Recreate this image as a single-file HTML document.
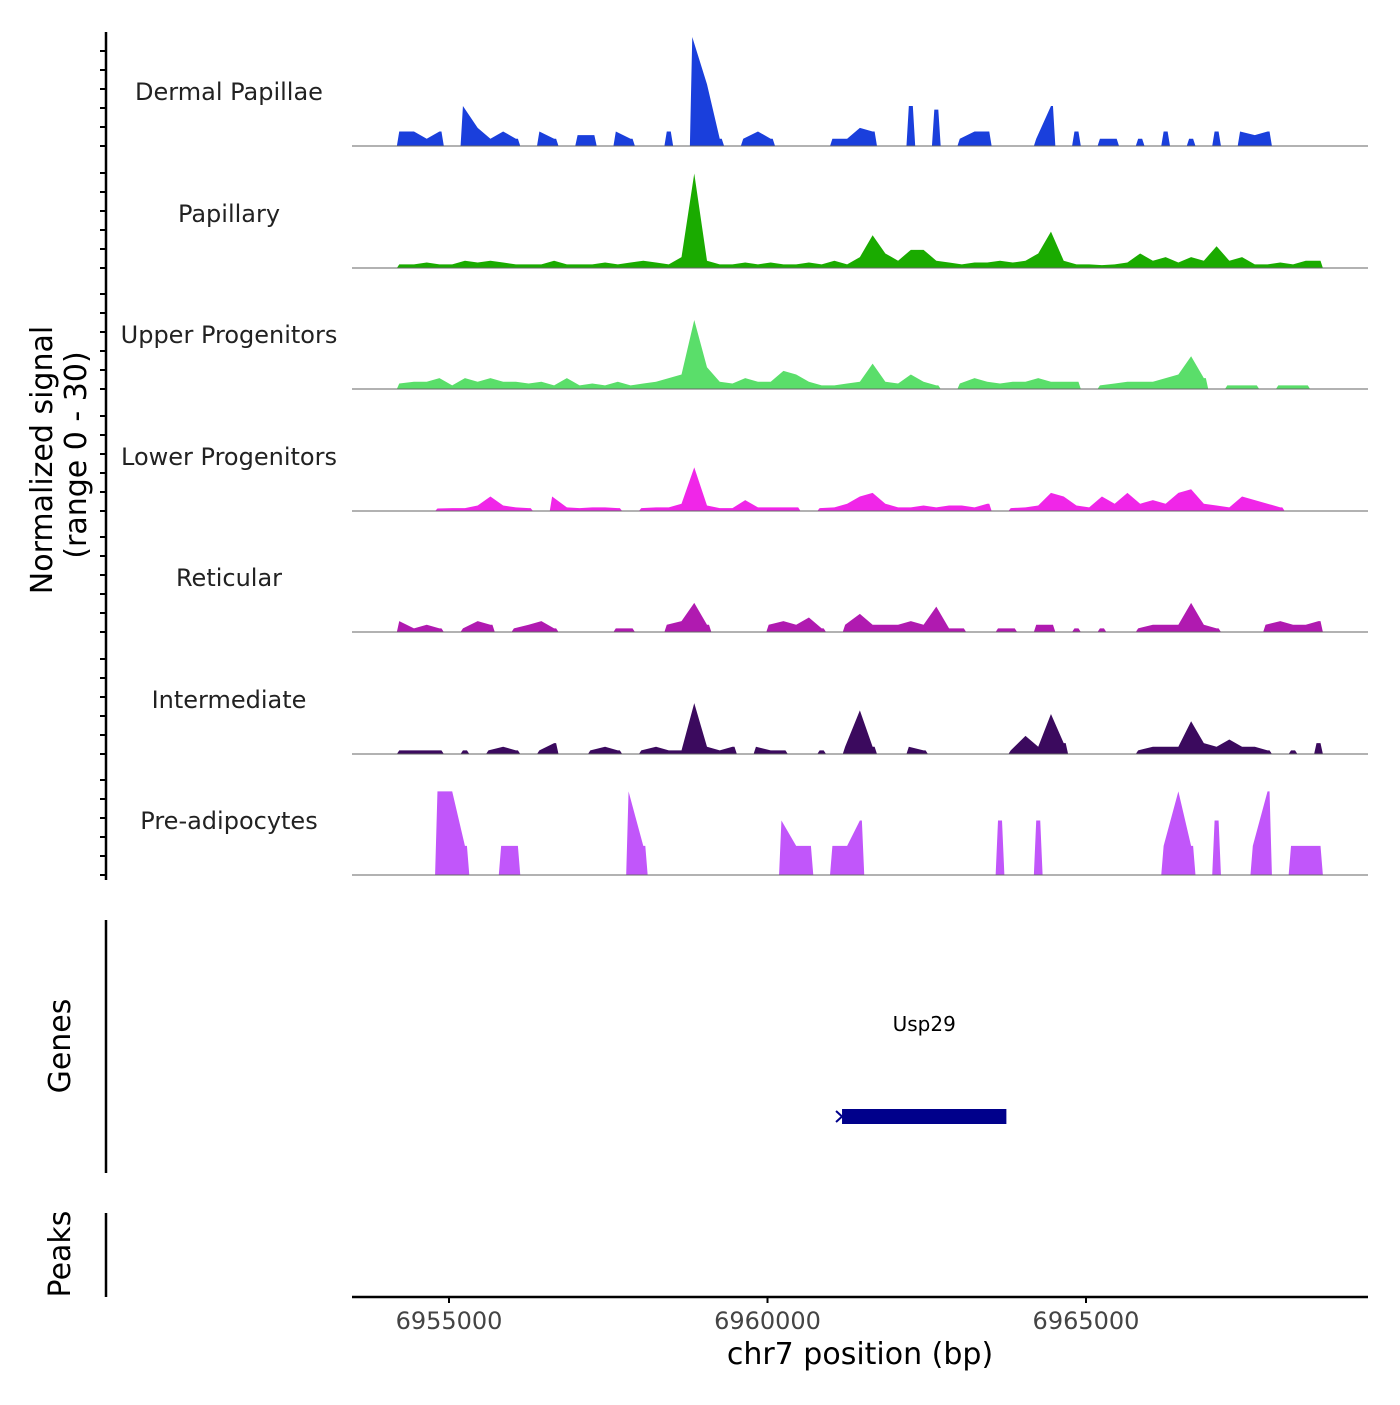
<!DOCTYPE html>
<html><head><meta charset="utf-8"><style>
body{margin:0;background:#fff}
svg text{font-family:"DejaVu Sans","Liberation Sans",sans-serif}
</style></head><body>
<svg id="chart" width="1400" height="1400" viewBox="0 0 1400 1400" xmlns="http://www.w3.org/2000/svg"></svg>
<script>
const trackNames=["Dermal Papillae","Papillary","Upper Progenitors","Lower Progenitors","Reticular","Intermediate","Pre-adipocytes"];
const trackColors=["#1a3fdc","#1aab00","#5ade6a","#f026e8","#b01ab0","#3b0a5e","#c156fa"];
const binStart=6954150, binSize=200, nBins=73;
// sparse signal values per track: [binIndex, value]
const dermal=[[0,4],[1,4],[2,2],[3,4],[5,11],[6,5],[7,2],[8,4],[9,2],[11,4],[12,2],[14,3],[15,3],[17,4],[18,2],[21,4],[23,30],[24,17],[25,2],[27,2],[28,4],[29,2],[34,2],[35,2],[36,5],[37,4],[40,11],[42,10],[44,2],[45,4],[46,4],[50,2],[51,11],[53,4],[55,2],[56,2],[58,2],[60,4],[62,2],[64,4],[66,4],[67,3],[68,4]];
const papillary=[[0,1],[1,1],[2,1.5],[3,1],[4,1],[5,2],[6,1.5],[7,2],[8,1.5],[9,1],[10,1],[11,1],[12,2],[13,1],[14,1],[15,1],[16,1.5],[17,1],[18,1.5],[19,2],[20,1.5],[21,1],[22,3],[23,26],[24,2],[25,1],[26,1],[27,1.5],[28,1],[29,1.5],[30,1],[31,1],[32,1.5],[33,1],[34,2],[35,1],[36,3],[37,9],[38,4],[39,2],[40,5],[41,5],[42,2],[43,1.5],[44,1],[45,1.5],[46,1.5],[47,2],[48,1.5],[49,2],[50,4],[51,10],[52,2],[53,1],[54,1],[55,0.8],[56,1],[57,1.5],[58,4],[59,2],[60,3],[61,1.5],[62,3],[63,2],[64,6],[65,2],[66,3],[67,1],[68,1],[69,1.5],[70,1],[71,2],[72,2]];
const upper=[[0,1.5],[1,2],[2,2],[3,3],[4,1],[5,3],[6,2],[7,3],[8,2],[9,2],[10,1.5],[11,2],[12,1],[13,3],[14,1],[15,1.5],[16,1],[17,2],[18,1],[19,1.5],[20,2],[21,3],[22,4],[23,19],[24,6],[25,2],[26,1.5],[27,3],[28,2],[29,2],[30,5],[31,4],[32,2],[33,1],[34,1],[35,1.5],[36,2],[37,7],[38,2],[39,1.5],[40,4],[41,2],[42,1],[44,1.5],[45,3],[46,2],[47,1.5],[48,2],[49,2],[50,3],[51,2],[52,2],[53,2],[55,1],[56,1.5],[57,2],[58,2],[59,2],[60,3],[61,4],[62,9],[63,3],[65,1],[66,1],[67,1],[69,1],[70,1],[71,1]];
const lower=[[3,0.7],[4,0.8],[5,0.8],[6,1.5],[7,4],[8,1.5],[9,1],[10,0.8],[12,4],[13,1],[14,0.8],[15,1],[16,1],[17,0.8],[19,0.8],[20,1],[21,1],[22,2],[23,12],[24,1.5],[25,0.8],[26,0.8],[27,3],[28,1],[29,1],[30,1],[31,1],[33,0.8],[34,1],[35,2],[36,4],[37,5],[38,2],[39,1],[40,1],[41,1.5],[42,1],[43,1.5],[44,1.5],[45,1],[46,2],[48,0.8],[49,1],[50,1.5],[51,5],[52,4],[53,1.5],[54,1],[55,4],[56,2],[57,5],[58,2],[59,3],[60,2],[61,5],[62,6],[63,2],[64,1.5],[65,1],[66,4],[67,3],[68,2],[69,1]];
const reticular=[[0,3],[1,1],[2,2],[3,1],[5,1],[6,3],[7,2],[9,1],[10,2],[11,3],[12,1],[17,1],[18,1],[21,2],[22,3],[23,8],[24,2],[29,2],[30,3],[31,2],[32,4],[33,1],[35,2],[36,5],[37,2],[38,2],[39,2],[40,3],[41,2],[42,7],[43,1],[44,1],[47,1],[48,1],[50,2],[51,2],[53,1],[55,1],[58,1],[59,2],[60,2],[61,2],[62,8],[63,2],[64,1],[68,2],[69,3],[70,2],[71,2],[72,3]];
const intermediate=[[0,1],[1,1],[2,1],[3,1],[5,1],[7,1],[8,2],[9,1],[11,1],[12,3],[15,1],[16,2],[17,1],[19,1],[20,2],[21,1],[22,1],[23,14],[24,2],[25,1],[26,2],[28,2],[29,1],[30,1],[33,1],[35,2],[36,12],[37,2],[40,2],[41,1],[48,1],[49,5],[50,2],[51,11],[52,3],[58,1],[59,2],[60,2],[61,2],[62,9],[63,3],[64,2],[65,4],[66,2],[67,2],[68,1],[70,1],[72,3]];
const preadipo=[[3,23],[4,23],[5,8],[8,8],[9,8],[18,23],[19,8],[30,15],[31,8],[32,8],[34,8],[35,8],[36,15],[47,15],[50,15],[60,8],[61,23],[62,8],[64,15],[67,8],[68,23],[70,8],[71,8],[72,8]];
const tracks=[dermal,papillary,upper,lower,reticular,intermediate,preadipo];
const xTicks=[6955000,6960000,6965000];
const geneName="Usp29", geneStart=6961170, geneEnd=6963750;

const NS="http://www.w3.org/2000/svg";
const svg=document.getElementById('chart');
function mk(t,a,txt){const e=document.createElementNS(NS,t);for(const k in a)e.setAttribute(k,a[k]);if(txt!==undefined)e.textContent=txt;svg.appendChild(e);return e;}
const X0=6953477,X1=6969427,PX0=352,PX1=1368;
const xs=v=>PX0+(v-X0)/(X1-X0)*(PX1-PX0);
const baselines=[146,268,389,511,632,754,875];
const yUnit=109/30;

tracks.forEach((tr,ti)=>{
  const b=baselines[ti];
  const vals=new Array(nBins).fill(0);
  tr.forEach(([i,v])=>vals[i]=v);
  let d="";let open=false;
  for(let i=0;i<nBins;i++){
    const xl=xs(binStart+i*binSize), xr=xs(binStart+(i+1)*binSize), xc=(xl+xr)/2;
    if(vals[i]>0){
      const y=b-vals[i]*yUnit;
      if(!open){d+=`M${xl+2},${b}L${xc-2},${y}`;open=true;}
      else d+=`L${xc},${y}`;
      if(i===nBins-1||vals[i+1]===0){d+=`L${xc+2},${y}L${xr-2},${b}Z`;open=false;}
    }
  }
  const p=mk('path',{d:d,fill:trackColors[ti]});
  
  
  const l=mk('line',{x1:PX0,x2:PX1,y1:b,y2:b,stroke:'#666','stroke-width':1});
  
  
  const t=mk('text',{x:229,y:b-46,'text-anchor':'middle','font-size':24,fill:'#222'},trackNames[ti]);
  
  
});
// left axis
let a=mk('line',{x1:106,x2:106,y1:32,y2:880,stroke:'#000','stroke-width':2.5});

baselines.forEach((b,ti)=>{
  for(let k=0;k<6;k++){const y=b-k*19;
    const tk=mk('line',{x1:100,x2:106,y1:y,y2:y,stroke:'#000','stroke-width':2});
    }
});
let t1=mk('text',{x:0,y:0,transform:'translate(52,460) rotate(-90)','text-anchor':'middle','font-size':30},'Normalized signal');

let t2=mk('text',{x:0,y:0,transform:'translate(86,455) rotate(-90)','text-anchor':'middle','font-size':30},'(range 0 - 30)');

// genes
let ga=mk('line',{x1:106,x2:106,y1:920,y2:1173,stroke:'#000','stroke-width':2.5});

let gt=mk('text',{x:0,y:0,transform:'translate(70,1046) rotate(-90)','text-anchor':'middle','font-size':30},'Genes');

let gb=mk('rect',{x:xs(geneStart),y:1109,width:xs(geneEnd)-xs(geneStart),height:15,fill:'#00008b'});

let gar=mk('path',{d:`M${xs(geneStart)-6},1111L${xs(geneStart)},1116.5L${xs(geneStart)-6},1122`,stroke:'#00008b','stroke-width':2,fill:'none'});

let gl=mk('text',{x:(xs(geneStart)+xs(geneEnd))/2,y:1031,'text-anchor':'middle','font-size':20},geneName);

// peaks
let pa=mk('line',{x1:106,x2:106,y1:1213,y2:1297,stroke:'#000','stroke-width':2.5});

let pt=mk('text',{x:0,y:0,transform:'translate(70,1254) rotate(-90)','text-anchor':'middle','font-size':30},'Peaks');

// x axis
let xa=mk('line',{x1:PX0,x2:PX1,y1:1297,y2:1297,stroke:'#000','stroke-width':2.5});

xTicks.forEach(v=>{
  const tk=mk('line',{x1:xs(v),x2:xs(v),y1:1297,y2:1303,stroke:'#000','stroke-width':2});
  
  const tl=mk('text',{x:xs(v),y:1329,'text-anchor':'middle','font-size':24,fill:'#444'},String(v));
  
});
let xt=mk('text',{x:860,y:1364,'text-anchor':'middle','font-size':30},'chr7 position (bp)');

</script>
</body></html>
